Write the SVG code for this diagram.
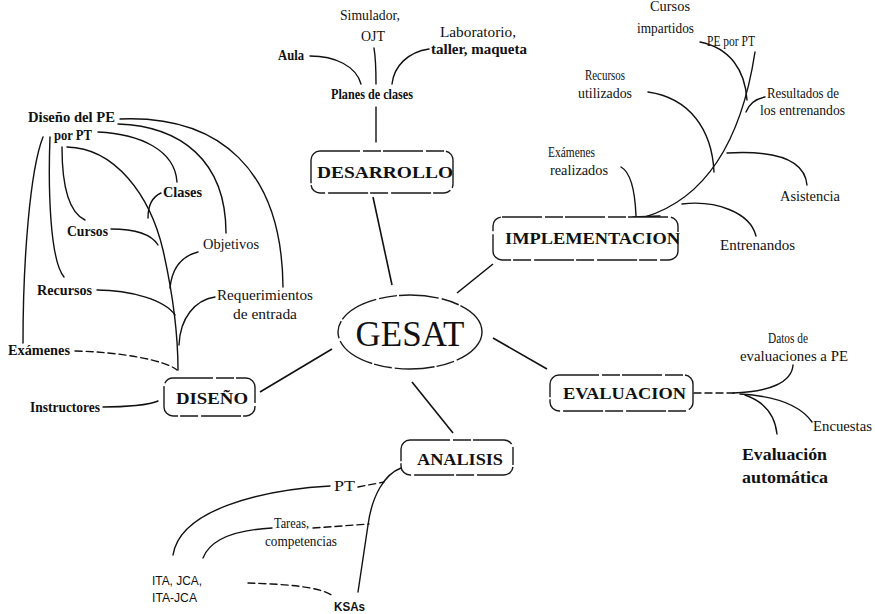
<svg xmlns="http://www.w3.org/2000/svg" width="875" height="614" viewBox="0 0 875 614">
<style>
text{font-family:"Liberation Serif","Times New Roman",serif;fill:#111;font-size:14px}
.b{font-weight:bold}
.s{font-family:"Liberation Sans",Arial,sans-serif;font-size:12px}
.big{font-weight:bold;font-size:17px}
.title{font-size:35px}
.box{fill:#fff;stroke:#1a1a1a;stroke-width:1.4;stroke-dasharray:40 3 18 2}
.c{fill:none;stroke:#111;stroke-width:1.4;stroke-linecap:round}
.m{fill:none;stroke:#111;stroke-width:1.6}
.d{stroke-dasharray:7 4}
</style>
<rect width="875" height="614" fill="#fff"/>
<g id="connectors">
<path class="m" d="M392,285 L373,197"/>
<path class="m" d="M457,293 L493,264"/>
<path class="m" d="M493,338 L547,369"/>
<path class="m" d="M332,349 L260,392"/>
<path class="m" d="M412,382 L453,433"/>
<path class="c" d="M310,56 C335,56 356,66 361,84"/>
<path class="c" d="M374,48 C376,60 376,72 376,84"/>
<path class="c" d="M429,49 C408,52 394,66 392,84"/>
<path class="c" d="M376,107 L376,142"/>
<path class="c" d="M67,147 C115,148 150,195 163,250 C172,290 178,330 178,370"/>
<path class="c" d="M161,193 C152,197 148,207 148,218"/>
<path class="c" d="M111,229 C130,229 150,232 158,245"/>
<path class="c" d="M198,252 C182,256 172,268 170,288"/>
<path class="c" d="M97,290 C130,290 165,300 175,315"/>
<path class="c" d="M215,297 C195,300 180,318 179,345"/>
<path class="c d" d="M75,351 C120,352 165,360 177,370"/>
<path class="c" d="M103,407 C125,407 150,405 158,401"/>
<path class="c" d="M120,119 C220,115 282,170 283,287"/>
<path class="c" d="M118,124 C180,126 226,160 226,233"/>
<path class="c" d="M98,132 C140,134 175,150 177,182"/>
<path class="c" d="M43,137 C30,170 23,260 23,343"/>
<path class="c" d="M50,137 C48,190 50,260 64,277"/>
<path class="c" d="M62,147 C62,185 68,212 85,220"/>
<path class="c" d="M633,217 L660,216" stroke-width="3"/>
<path class="c" d="M645,217 C700,200 740,150 755,52"/>
<path class="c" d="M700,42 C730,48 745,70 747,100"/>
<path class="c" d="M765,97 C755,99 749,104 746,112"/>
<path class="c" d="M648,92 C690,98 712,130 714,172"/>
<path class="c" d="M621,167 C630,172 635,190 636,216"/>
<path class="c" d="M727,153 C780,150 805,162 807,185"/>
<path class="c" d="M682,204 C715,200 750,212 756,236"/>
<path class="c d" d="M694,393 L735,393"/>
<path class="c" d="M733,393 C770,392 792,382 793,365"/>
<path class="c" d="M740,394 C775,396 800,405 812,422"/>
<path class="c" d="M745,395 C765,402 775,415 777,434"/>
<path class="c" d="M401,468 C385,474 372,495 368,525 L358,592"/>
<path class="c d" d="M358,487 L384,482"/>
<path class="c" d="M330,486 C260,490 180,510 173,555"/>
<path class="c d" d="M313,528 L369,524"/>
<path class="c" d="M272,528 C235,530 210,540 203,558"/>
<path class="c d" d="M248,583 C280,584 320,586 333,596"/>
</g>
<g id="gesat">
<ellipse class="box" cx="410" cy="332" rx="72" ry="37"/>
<text class="title" x="410" y="346" text-anchor="middle">GESAT</text>
</g>
<g id="desarrollo">
<rect class="box" x="311" y="151" width="142" height="42" rx="9"/>
<text class="big" x="317" y="178" textLength="136" lengthAdjust="spacingAndGlyphs">DESARROLLO</text>
</g>
<g id="implementacion">
<rect class="box" x="493" y="217" width="185" height="43" rx="9"/>
<text class="big" x="505" y="244" textLength="175" lengthAdjust="spacingAndGlyphs">IMPLEMENTACION</text>
</g>
<g id="evaluacion">
<rect class="box" x="550" y="375" width="143" height="36" rx="9"/>
<text class="big" x="563" y="399" textLength="123" lengthAdjust="spacingAndGlyphs">EVALUACION</text>
</g>
<g id="diseno">
<rect class="box" x="164" y="378" width="91" height="38" rx="9"/>
<text class="big" x="176" y="404" textLength="72" lengthAdjust="spacingAndGlyphs">DISEÑO</text>
</g>
<g id="analisis">
<rect class="box" x="401" y="440" width="112" height="35" rx="9"/>
<text class="big" x="417" y="465" textLength="86" lengthAdjust="spacingAndGlyphs">ANALISIS</text>
</g>
<g id="labels-desarrollo">
<text x="340" y="20" textLength="60" lengthAdjust="spacingAndGlyphs">Simulador,</text>
<text x="361" y="41" textLength="24" lengthAdjust="spacingAndGlyphs">OJT</text>
<text class="b" x="278" y="60" textLength="26" lengthAdjust="spacingAndGlyphs">Aula</text>
<text x="440" y="37" textLength="76" lengthAdjust="spacingAndGlyphs">Laboratorio,</text>
<text class="b" x="431" y="54" textLength="96" lengthAdjust="spacingAndGlyphs">taller, maqueta</text>
<text class="b" x="331" y="99" textLength="82" lengthAdjust="spacingAndGlyphs">Planes de clases</text>
</g>
<g id="labels-diseno">
<text class="b" x="28" y="122" textLength="87" lengthAdjust="spacingAndGlyphs">Diseño del PE</text>
<text class="b" x="54" y="140" textLength="38" lengthAdjust="spacingAndGlyphs">por PT</text>
<text class="b" x="163" y="197" textLength="39" lengthAdjust="spacingAndGlyphs">Clases</text>
<text class="b" x="67" y="236" textLength="41" lengthAdjust="spacingAndGlyphs">Cursos</text>
<text x="203" y="249" textLength="56" lengthAdjust="spacingAndGlyphs">Objetivos</text>
<text class="b" x="37" y="295" textLength="55" lengthAdjust="spacingAndGlyphs">Recursos</text>
<text x="217" y="300" textLength="96" lengthAdjust="spacingAndGlyphs">Requerimientos</text>
<text x="233" y="319" textLength="64" lengthAdjust="spacingAndGlyphs">de entrada</text>
<text class="b" x="8" y="355" textLength="62" lengthAdjust="spacingAndGlyphs">Exámenes</text>
<text class="b" x="30" y="412" textLength="70" lengthAdjust="spacingAndGlyphs">Instructores</text>
</g>
<g id="labels-implementacion">
<text x="650" y="11" textLength="40" lengthAdjust="spacingAndGlyphs">Cursos</text>
<text x="637" y="33" textLength="57" lengthAdjust="spacingAndGlyphs">impartidos</text>
<text x="707" y="46" textLength="48" lengthAdjust="spacingAndGlyphs">PE por PT</text>
<text x="585" y="80" textLength="40" lengthAdjust="spacingAndGlyphs">Recursos</text>
<text x="578" y="98" textLength="54" lengthAdjust="spacingAndGlyphs">utilizados</text>
<text x="767" y="98" textLength="72" lengthAdjust="spacingAndGlyphs">Resultados de</text>
<text x="760" y="115" textLength="85" lengthAdjust="spacingAndGlyphs">los entrenandos</text>
<text x="548" y="157" textLength="47" lengthAdjust="spacingAndGlyphs">Exámenes</text>
<text x="550" y="175" textLength="58" lengthAdjust="spacingAndGlyphs">realizados</text>
<text x="780" y="201" textLength="60" lengthAdjust="spacingAndGlyphs">Asistencia</text>
<text x="720" y="250" textLength="75" lengthAdjust="spacingAndGlyphs">Entrenandos</text>
</g>
<g id="labels-evaluacion">
<text x="768" y="343" textLength="40" lengthAdjust="spacingAndGlyphs">Datos de</text>
<text x="740" y="361" textLength="108" lengthAdjust="spacingAndGlyphs">evaluaciones a PE</text>
<text x="813" y="431" textLength="59" lengthAdjust="spacingAndGlyphs">Encuestas</text>
<text class="big" x="742" y="460" textLength="85" lengthAdjust="spacingAndGlyphs">Evaluación</text>
<text class="big" x="742" y="483" textLength="86" lengthAdjust="spacingAndGlyphs">automática</text>
</g>
<g id="labels-analisis">
<text x="334" y="491" textLength="21" lengthAdjust="spacingAndGlyphs">PT</text>
<text x="274" y="528" textLength="35" lengthAdjust="spacingAndGlyphs">Tareas,</text>
<text x="265" y="546" textLength="72" lengthAdjust="spacingAndGlyphs">competencias</text>
<text class="s" x="152" y="585" textLength="50" lengthAdjust="spacingAndGlyphs">ITA, JCA,</text>
<text class="s" x="152" y="602" textLength="45" lengthAdjust="spacingAndGlyphs">ITA-JCA</text>
<text class="s b" x="334" y="611" textLength="31" lengthAdjust="spacingAndGlyphs">KSAs</text>
</g>
</svg>
